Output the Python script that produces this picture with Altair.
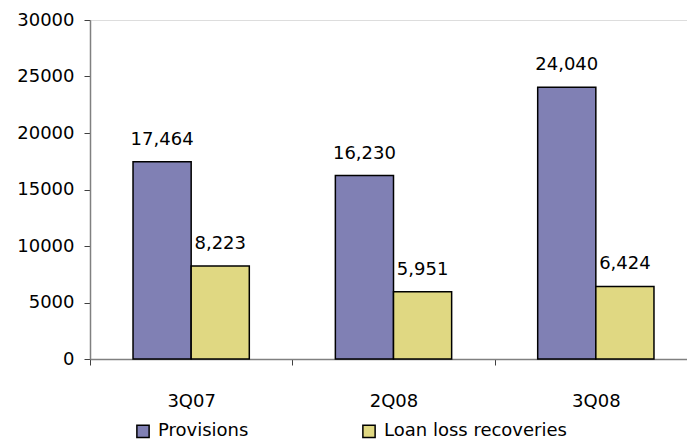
import altair as alt
import pandas as pd

quarters = ["3Q07", "2Q08", "3Q08"]
series = ["Provisions", "Loan loss recoveries"]
provisions = [17464, 16230, 24040]
recoveries = [8223, 5951, 6424]
colors = ["#8080B4", "#E0D882"]

rows = []
for q, p, r in zip(quarters, provisions, recoveries):
    rows.append({"quarter": q, "series": series[0], "value": p})
    rows.append({"quarter": q, "series": series[1], "value": r})
df = pd.DataFrame(rows)

FONT = "DejaVu Sans"

x = alt.X("quarter:N", sort=quarters, title=None,
          scale=alt.Scale(range=[0, 607], paddingInner=0, paddingOuter=0),
          axis=alt.Axis(labelAngle=0, tickBand="extent", labelFontSize=18, labelFont=FONT,
                        labelColor="#000000", labelPadding=27, tickSize=6,
                        domainColor="#808080", tickColor="#404040", domainWidth=1.5))
xoff = alt.XOffset("series:N", sort=series,
                   scale=alt.Scale(paddingInner=0, paddingOuter=0.74))
y = alt.Y("value:Q", title=None,
          scale=alt.Scale(domain=[0, 30000], nice=False),
          axis=alt.Axis(values=[0, 5000, 10000, 15000, 20000, 25000, 30000], format="d",
                        grid=False, labelFontSize=18, labelFont=FONT, labelColor="#000000",
                        labelPadding=10, tickSize=6, domainColor="#808080",
                        tickColor="#404040", domainWidth=1.5))

color = alt.Color("series:N", sort=series,
                  scale=alt.Scale(domain=series, range=colors),
                  legend=alt.Legend(title=None, orient="none", direction="horizontal",
                                    legendX=44, legendY=402, symbolType="square",
                                    symbolSize=150, symbolStrokeColor="#000000",
                                    symbolStrokeWidth=1.5, symbolOpacity=1,
                                    labelFontSize=18, labelFont=FONT, labelColor="#000000",
                                    labelLimit=400,
                                    columnPadding=110, labelOffset=6))

bars = alt.Chart(df).mark_bar(stroke="#000000", strokeWidth=1.5, opacity=1).encode(
    x=x, xOffset=xoff, y=y, color=color)

labels = alt.Chart(df).mark_text(dy=-17, baseline="alphabetic", fontSize=18, font=FONT,
                                 color="#000000").encode(
    x=x, xOffset=xoff, y=y, text=alt.Text("value:Q", format=","))

chart = (bars + labels).properties(
    width=597, height=339,
    autosize=alt.AutoSizeParams(type="none"),
    padding={"left": 90, "top": 20, "right": 0, "bottom": 82},
).configure_view(stroke=None).configure(background="#ffffff")

chart.save("out.html", embed_options={"renderer": "svg", "actions": False})
